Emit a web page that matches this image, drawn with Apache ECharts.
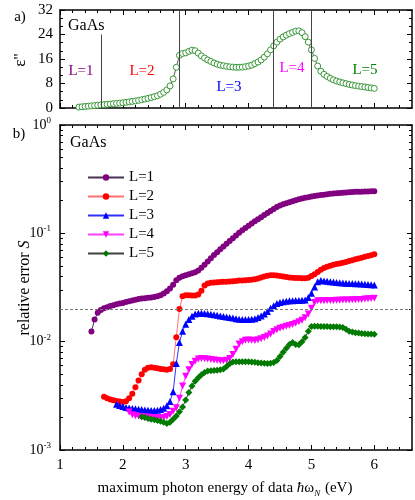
<!DOCTYPE html>
<html>
<head>
<meta charset="utf-8">
<script src="https://cdn.jsdelivr.net/npm/echarts@6/dist/echarts.min.js"></script>
<style>
  html, body { margin: 0; padding: 0; background: #fff; }
  #chart { width: 415px; height: 500px; }
</style>
</head>
<body>
<div id="chart"></div>
<script>
// photon energy grid step (eV)
const STEP = 0.05;

// a) eps'' of GaAs, from 1.30 eV to 6.00 eV
const EPS_START = 1.3;
const epsValues = [
  0.3, 0.4, 0.5, 0.6, 0.7, 0.8, 0.9, 1.0, 1.1, 1.2, 1.3, 1.4, 1.5, 1.6, 1.7,
  1.85, 2.0, 2.15, 2.3, 2.5, 2.7, 2.9, 3.15, 3.4, 3.7, 4.0, 4.5, 5.1, 5.9, 7.2, 9.5, 13.3, 17.2, 17.8, 18.0,
  18.5, 18.9, 18.7, 17.9, 17.0, 16.3, 15.7, 15.2, 14.7, 14.3, 14.0, 13.8, 13.6, 13.45, 13.35, 13.3, 13.3, 13.35, 13.5, 13.7,
  14.0, 14.5, 15.0, 15.7, 16.6, 17.7, 19.0, 20.3, 21.5, 22.5, 23.2, 23.8, 24.3, 24.7, 25.1, 25.2, 24.6, 23.3, 21.5, 19.0,
  16.2, 13.7, 12.0, 11.0, 10.3, 9.7, 9.2, 8.8, 8.5, 8.2, 7.95, 7.7, 7.5, 7.3, 7.15, 7.0, 6.85, 6.7, 6.55, 6.4
];

// borders of the L regions and where each vertical line ends
const boundaries = [1.65, 2.9, 4.4, 5.0];
const boundaryTops = [24, 32, 32, 32];
const regionNames = ['L=1', 'L=2', 'L=3', 'L=4', 'L=5'];

// b) relative error S for each L
const L1_START = 1.5;
const errL1 = [
  0.0124, 0.0160, 0.0185, 0.0196, 0.0203, 0.0208, 0.0213, 0.0217, 0.0221, 0.0225,
  0.0228, 0.0232, 0.0236, 0.0240, 0.0244, 0.0247, 0.0250, 0.0252, 0.0254, 0.0256,
  0.0258, 0.0262, 0.0268, 0.0278, 0.0292, 0.0310, 0.0335, 0.0368, 0.0390, 0.0402,
  0.0410, 0.0418, 0.0427, 0.0438, 0.0455, 0.0480, 0.0512, 0.0550, 0.0590, 0.0630,
  0.0670, 0.0712, 0.0755, 0.0800, 0.0850, 0.0900, 0.0955, 0.1010, 0.1065, 0.1120,
  0.1175, 0.1230, 0.1290, 0.1350, 0.1410, 0.1475, 0.1540, 0.1610, 0.1680, 0.1750,
  0.1810, 0.1860, 0.1900, 0.1940, 0.1980, 0.2020, 0.2060, 0.2095, 0.2125, 0.2155,
  0.2185, 0.2210, 0.2235, 0.2255, 0.2275, 0.2295, 0.2315, 0.2330, 0.2345, 0.2360,
  0.2375, 0.2385, 0.2395, 0.2405, 0.2415, 0.2420, 0.2425, 0.2430, 0.2435, 0.2440, 0.2445
];
const L2_START = 1.7;
const errL2 = [
  0.0031, 0.0030, 0.00293, 0.00288, 0.00284, 0.00280, 0.00278, 0.00282, 0.00300, 0.00330,
  0.00380, 0.00437, 0.00500, 0.00550, 0.00575, 0.00580, 0.00575, 0.00568, 0.00560, 0.00555,
  0.00550, 0.00560, 0.00620, 0.0110, 0.0200, 0.0262, 0.0268, 0.0268, 0.0267, 0.0267,
  0.0272, 0.0295, 0.0330, 0.0345, 0.0350, 0.0352, 0.0354, 0.0355, 0.0357, 0.0358,
  0.0360, 0.0362, 0.0364, 0.0366, 0.0367, 0.0369, 0.0371, 0.0373, 0.0377, 0.0383,
  0.0392, 0.0400, 0.0406, 0.0410, 0.0411, 0.0408, 0.0403, 0.0399, 0.0395, 0.0392,
  0.0390, 0.0388, 0.0386, 0.0385, 0.0385, 0.0390, 0.0403, 0.0420, 0.0440, 0.0460,
  0.0478, 0.0492, 0.0503, 0.0512, 0.0520, 0.0528, 0.0536, 0.0545, 0.0555, 0.0565,
  0.0575, 0.0585, 0.0596, 0.0607, 0.0618, 0.0629, 0.0640
];
const L3_START = 1.9;
const errL3 = [
  0.00264, 0.00258, 0.00252, 0.00247, 0.00244, 0.00242, 0.00240, 0.00238, 0.00236, 0.00234,
  0.00233, 0.00232, 0.00232, 0.00233, 0.00236, 0.00243, 0.00256, 0.00280, 0.00345, 0.00630,
  0.0098, 0.0125, 0.0145, 0.0160, 0.0172, 0.0180, 0.0183, 0.0183, 0.0182, 0.0181,
  0.0179, 0.0177, 0.0175, 0.0173, 0.0171, 0.0169, 0.0167, 0.0165, 0.0163, 0.0161,
  0.0160, 0.0160, 0.0160, 0.0161, 0.0163, 0.0167, 0.0173, 0.0180, 0.0190, 0.0203,
  0.0215, 0.0225, 0.0230, 0.0234, 0.0236, 0.0238, 0.0239, 0.0240, 0.0240, 0.0241,
  0.0243, 0.0255, 0.0280, 0.0320, 0.0358, 0.0366, 0.0364, 0.0361, 0.0358, 0.0355,
  0.0352, 0.0350, 0.0348, 0.0346, 0.0345, 0.0344, 0.0343, 0.0342, 0.0340, 0.0338,
  0.0337, 0.0335, 0.0334
];
const L4_START = 2.1;
const errL4 = [
  0.00224, 0.00212, 0.00207, 0.00205, 0.00203, 0.00202, 0.00201, 0.00200, 0.00199, 0.00199,
  0.00199, 0.00200, 0.00204, 0.00213, 0.00228, 0.00245, 0.00300, 0.00390, 0.00480, 0.00550,
  0.00615, 0.00660, 0.00690, 0.00700, 0.00697, 0.00690, 0.00683, 0.00677, 0.00672, 0.00668,
  0.00667, 0.00675, 0.00700, 0.00760, 0.00850, 0.00950, 0.01000, 0.01030, 0.01035, 0.01030,
  0.01025, 0.01040, 0.01065, 0.01095, 0.01130, 0.01180, 0.01240, 0.01290, 0.01330, 0.01360,
  0.01385, 0.01410, 0.01440, 0.01480, 0.01530, 0.01580, 0.01660, 0.01800, 0.02030, 0.02300,
  0.02380, 0.02385, 0.02390, 0.02395, 0.02400, 0.02405, 0.02410, 0.02415, 0.02420, 0.02425,
  0.02430, 0.02435, 0.02440, 0.02445, 0.02450, 0.02470, 0.02485, 0.02500, 0.02510
];
const L5_START = 2.3;
const errL5 = [
  0.00203, 0.00199, 0.00195, 0.00192, 0.00190, 0.00187, 0.00184, 0.00180, 0.00176, 0.00180,
  0.00192, 0.00206, 0.00225, 0.00250, 0.00290, 0.00340, 0.00390, 0.00430, 0.00465, 0.00495,
  0.00520, 0.00535, 0.00540, 0.00542, 0.00545, 0.00550, 0.00560, 0.00590, 0.00625, 0.00648,
  0.00653, 0.00654, 0.00654, 0.00653, 0.00652, 0.00650, 0.00645, 0.00640, 0.00635, 0.00632,
  0.00630, 0.00632, 0.00642, 0.00670, 0.00730, 0.00800, 0.00870, 0.00940, 0.00980, 0.00940,
  0.00935, 0.01000, 0.01090, 0.01250, 0.01380, 0.01385, 0.01385, 0.01383, 0.01380, 0.01378,
  0.01375, 0.01372, 0.01370, 0.01365, 0.01350, 0.01300, 0.01245, 0.01225, 0.01210, 0.01200,
  0.01190, 0.01185, 0.01180, 0.01175, 0.01170
];
const thresholdS = 0.02;

// tick positions
const xMajor = [1, 2, 3, 4, 5, 6];
const xMinor = [];
for (let v = 1.2; v < 6.6; v += 0.2) if (Math.abs(v - Math.round(v)) > 0.05) xMinor.push(+v.toFixed(1));
const epsMajor = [0, 8, 16, 24, 32];
const epsMinor = [];
for (let k = 1; k < 12; k++) if (k % 3) epsMinor.push(k * 8 / 3);
const logMajor = [0.001, 0.01, 0.1, 1];
const logMinor = [];
[0.001, 0.01, 0.1].forEach(d => { for (let m = 2; m <= 9; m++) logMinor.push(+(m * d).toPrecision(2)); });

const FONT = 'Liberation Serif';

function pairs(start, vals) {
  return vals.map((v, i) => [+(start + i * STEP).toFixed(2), v]);
}

function axis(kind, grid, pos, ticks, len, extra) {
  const a = {
    gridIndex: grid,
    position: pos,
    axisLine: { show: len > 3, onZero: false, lineStyle: { color: '#000', width: 1.5 } },
    axisTick: { show: true, inside: true, length: len, customValues: ticks, lineStyle: { color: '#000', width: 1 } },
    axisLabel: { show: false },
    splitLine: { show: false },
    minorTick: { show: false }
  };
  if (kind === 'x') { a.type = 'value'; a.min = 1; a.max = 6.6; }
  else if (kind === 'eps') { a.type = 'value'; a.min = 0; a.max = 32; }
  else { a.type = 'log'; a.logBase = 10; a.min = 0.001; a.max = 1; }
  return Object.assign(a, extra || {});
}

const labelFont = { fontFamily: FONT, fontSize: 15, color: '#000' };

const xAxes = [
  axis('x', 0, 'bottom', xMajor, 5),
  axis('x', 0, 'bottom', xMinor, 3),
  axis('x', 0, 'top', xMajor, 5),
  axis('x', 0, 'top', xMinor, 3),
  axis('x', 1, 'bottom', xMajor, 5, {
    axisLabel: Object.assign({ show: true, customValues: xMajor, margin: 8 }, labelFont)
  }),
  axis('x', 1, 'bottom', xMinor, 3),
  axis('x', 1, 'top', xMajor, 5),
  axis('x', 1, 'top', xMinor, 3)
];

const yAxes = [
  axis('eps', 0, 'left', epsMajor, 5, {
    axisLabel: Object.assign({ show: true, customValues: epsMajor, margin: 7 }, labelFont)
  }),
  axis('eps', 0, 'left', epsMinor, 3),
  axis('eps', 0, 'right', epsMajor, 5),
  axis('eps', 0, 'right', epsMinor, 3),
  axis('log', 1, 'left', logMajor, 5, {
    axisLabel: {
      show: true, customValues: logMajor, margin: 9,
      formatter: v => '{b|10}{s|' + Math.round(Math.log10(v)) + '}',
      rich: {
        b: { fontFamily: FONT, fontSize: 14, color: '#000', lineHeight: 18 },
        s: { fontFamily: FONT, fontSize: 9, color: '#000', lineHeight: 18, verticalAlign: 'top', padding: [0, 0, 9, 0] }
      }
    }
  }),
  axis('log', 1, 'left', logMinor, 3),
  axis('log', 1, 'right', logMajor, 5),
  axis('log', 1, 'right', logMinor, 3)
];

const triDown = 'path://M0,0 L10,0 L5,9 Z';

function errSeries(name, start, vals, symbol, size, color, lineColor) {
  return {
    name: name,
    type: 'line',
    xAxisIndex: 4,
    yAxisIndex: 4,
    data: pairs(start, vals),
    symbol: symbol,
    symbolSize: size,
    showAllSymbol: true,
    itemStyle: { color: color },
    lineStyle: { color: lineColor, width: 1 },
    z: 3
  };
}

const series = [
  {
    name: 'eps',
    type: 'line',
    xAxisIndex: 0,
    yAxisIndex: 0,
    data: pairs(EPS_START, epsValues),
    symbol: 'circle',
    symbolSize: 6,
    showAllSymbol: true,
    itemStyle: { color: '#fff', borderColor: '#3a983a', borderWidth: 1 },
    lineStyle: { color: '#333', width: 0.8 },
    markLine: {
      silent: true,
      symbol: 'none',
      label: { show: false },
      lineStyle: { color: '#444', width: 1, type: 'solid' },
      data: boundaries.map((b, i) => [{ coord: [b, 0] }, { coord: [b, boundaryTops[i]] }])
    }
  },
  errSeries('L=1', L1_START, errL1, 'circle', 6, '#800080', '#4a3050'),
  errSeries('L=2', L2_START, errL2, 'circle', 6, '#ff0000', '#ff7070'),
  errSeries('L=3', L3_START, errL3, 'triangle', 7, '#0000ff', '#3030ff'),
  errSeries('L=4', L4_START, errL4, triDown, 7, '#ff00ff', '#ff40ff'),
  errSeries('L=5', L5_START, errL5, 'diamond', 7, '#007a00', '#404040')
];
series[1].markLine = {
  silent: true,
  symbol: 'none',
  label: { show: false },
  lineStyle: { color: '#777', width: 1, type: [3, 2] },
  data: [{ yAxis: thresholdS }]
};

const regionColors = ['#800080', '#ff0000', '#0000ff', '#ff00ff', '#008000'];
const regionPos = [[81, 71], [142, 71], [229, 87], [292, 68], [365, 70]];

function txt(x, y, text, size, color, extra) {
  return {
    type: 'text', x: x, y: y, z: 10,
    style: Object.assign({
      text: text, fill: color || '#000', fontFamily: FONT, fontSize: size,
      align: 'center', verticalAlign: 'middle'
    }, extra || {})
  };
}

const graphics = [
  txt(20, 17, 'a)', 15),
  txt(19, 134, 'b)', 15),
  txt(68, 26, 'GaAs', 16, '#000', { align: 'left' }),
  txt(70, 143, 'GaAs', 16, '#000', { align: 'left' }),
  Object.assign(txt(21, 60, "ε''", 17), { rotation: Math.PI / 2 }),
  Object.assign(txt(25, 288, '{n|relative error }{i|S}', 16, '#000', {
    rich: {
      n: { fontFamily: FONT, fontSize: 16, fill: '#000' },
      i: { fontFamily: FONT, fontSize: 16, fontStyle: 'italic', fill: '#000' }
    }
  }), { rotation: Math.PI / 2 }),
  txt(225, 488, '{n|maximum photon energy of data }{i|ħ}{n|ω}{sub|N}{n| (eV)}', 15, '#000', {
    rich: {
      n: { fontFamily: FONT, fontSize: 15, fill: '#000', lineHeight: 20 },
      i: { fontFamily: FONT, fontSize: 15, fontStyle: 'italic', fill: '#000', lineHeight: 20 },
      sub: { fontFamily: FONT, fontSize: 9, fontStyle: 'italic', fill: '#000', lineHeight: 20, verticalAlign: 'bottom', padding: [8, 1, 0, 0] }
    }
  })
];
regionNames.forEach((n, i) => graphics.push(txt(regionPos[i][0], regionPos[i][1], n, 15, regionColors[i])));

const chart = echarts.init(document.getElementById('chart'), null, { renderer: 'canvas' });
chart.setOption({
  animation: false,
  backgroundColor: '#fff',
  grid: [
    { left: 60, top: 10, width: 352, height: 98 },
    { left: 60, top: 125, width: 352, height: 325 }
  ],
  legend: {
    data: ['L=1', 'L=2', 'L=3', 'L=4', 'L=5'],
    orient: 'vertical',
    left: 82,
    top: 165,
    itemWidth: 36,
    itemHeight: 8,
    itemGap: 4,
    textStyle: { fontFamily: FONT, fontSize: 15, color: '#000', lineHeight: 15 }
  },
  xAxis: xAxes,
  yAxis: yAxes,
  series: series,
  graphic: graphics
});
</script>
</body>
</html>
